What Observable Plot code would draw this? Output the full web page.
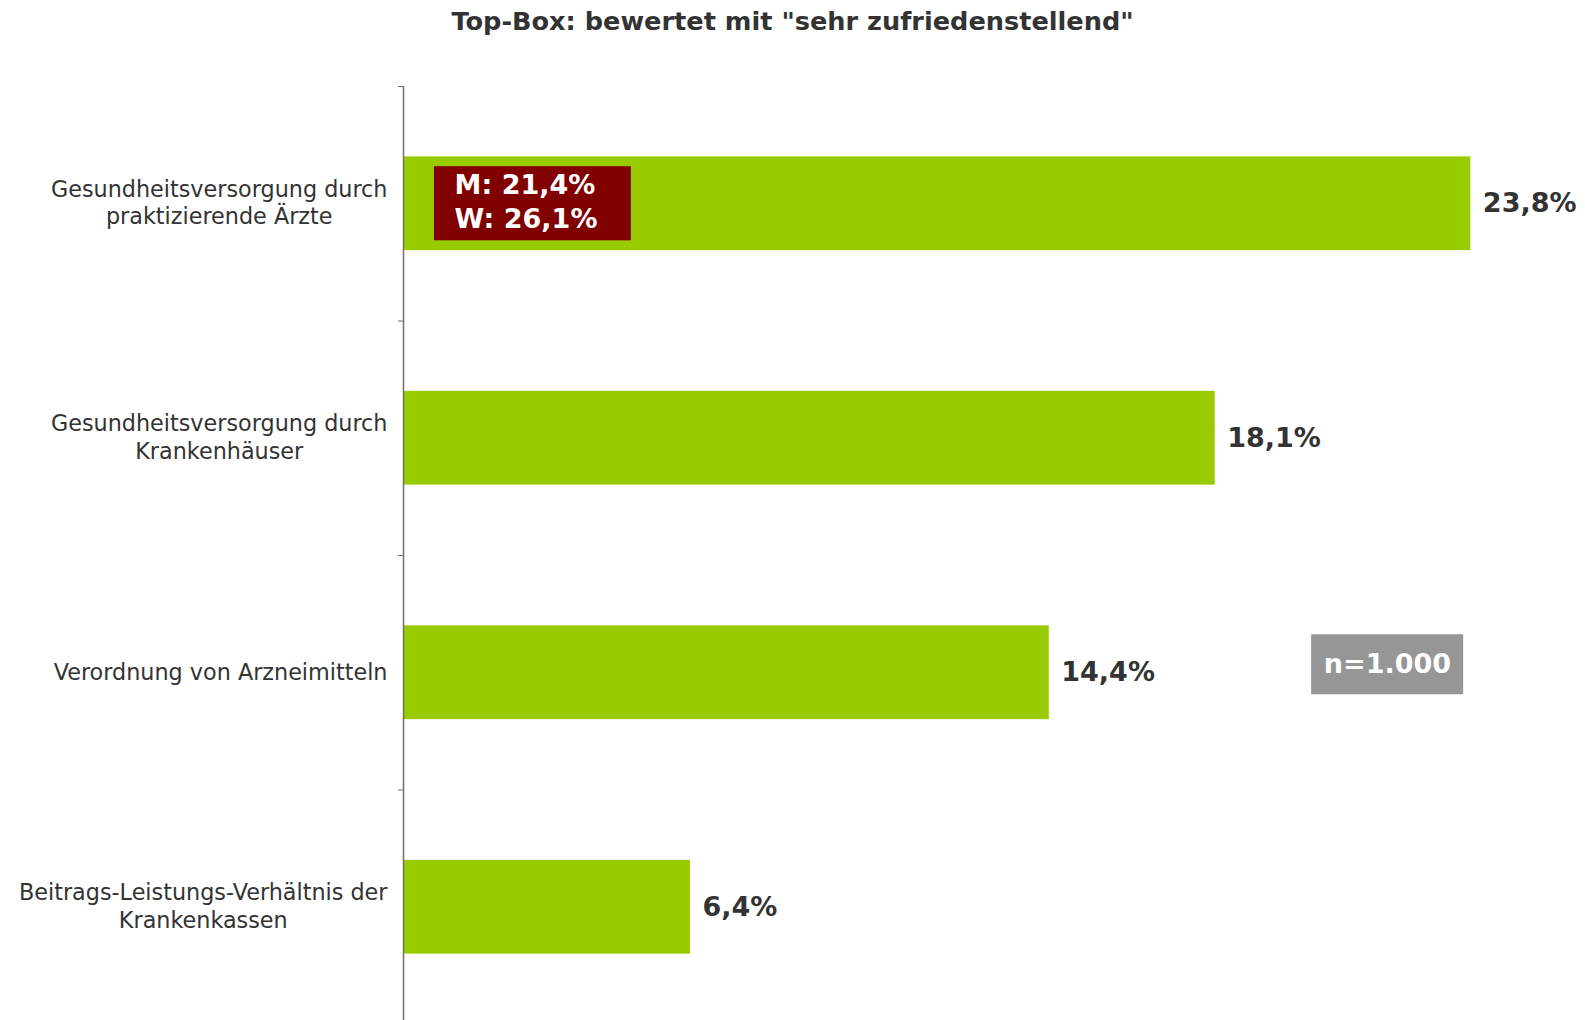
<!DOCTYPE html>
<html>
<head>
<meta charset="utf-8">
<script src="https://cdn.jsdelivr.net/npm/d3@7"></script>
<script src="https://cdn.jsdelivr.net/npm/@observablehq/plot@0.6"></script>
<style>
  html, body { margin: 0; padding: 0; background: #fff; overflow: hidden; }
  body { font-family: "DejaVu Sans", Verdana, sans-serif; width: 1585px; height: 1020px; }
  #title { height: 40px; line-height: 42px; text-align: center; font-weight: bold; font-size: 25.6px; color: #333; }
</style>
</head>
<body>
<div id="title">Top-Box: bewertet mit "sehr zufriedenstellend"</div>
<div id="chart"></div>
<script>
const categories = [
  "Gesundheitsversorgung durch\npraktizierende Ärzte",
  "Gesundheitsversorgung durch\nKrankenhäuser",
  "Verordnung von Arzneimitteln",
  "Beitrags-Leistungs-Verhältnis der\nKrankenkassen"
];
const values = [23.8, 18.1, 14.4, 6.4];
const genderLabels = ["M", "W"];
const genderValues = [21.4, 26.1];
const sampleNote = "n=1.000";

const fmt = v => v.toFixed(1).replace(".", ",") + "%";
const rows = categories.map((c, i) => ({category: c, index: i, value: values[i]}));
const genderText = genderLabels.map((g, i) => `${g}: ${fmt(genderValues[i])}`).join("\n");

const chart = Plot.plot({
  width: 1585,
  height: 984,
  marginLeft: 403,
  marginRight: 16,
  marginTop: 46,
  marginBottom: 0,
  style: {fontFamily: "DejaVu Sans, Verdana, sans-serif", background: "#fff"},
  x: {domain: [0, 26], axis: null},
  y: {domain: [0, 4], reverse: true, axis: null},
  marks: [
    Plot.rect(rows, {x1: 0, x2: "value", y1: d => d.index + 0.3, y2: d => d.index + 0.7, fill: "#99CC00"}),
    Plot.ruleX([0], {stroke: "#707070", strokeWidth: 1.5}),
    Plot.axisY({ticks: [0, 1, 2, 3], tickSize: 5, tickFormat: () => "", stroke: "#707070"}),
    Plot.text(rows, {
      x: 0, y: d => d.index + 0.5, text: "category", textAnchor: "end", dx: -16, dy: -2,
      fontSize: 22.3, lineHeight: 1.24, fill: "#333"
    }),
    Plot.text(rows, {
      x: "value", y: d => d.index + 0.5, text: d => fmt(d.value), textAnchor: "start", dx: 12,
      fontSize: 27, fontWeight: "bold", fill: "#333"
    }),
    // gender split annotation on first bar
    Plot.rect([0], {x1: 0.69, x2: 5.08, y1: 0.342, y2: 0.658, fill: "#800000"}),
    Plot.text([genderText], {
      x: 1.14, y: 0.488, text: d => d, textAnchor: "start", lineAnchor: "middle", dy: -1,
      fontSize: 27, lineHeight: 1.26, fontWeight: "bold", fill: "#fff"
    }),
    // sample size note
    Plot.rect([0], {x1: 20.25, x2: 23.64, y1: 2.338, y2: 2.594, fill: "#969696"}),
    Plot.text([sampleNote], {
      x: 21.94, y: 2.466, text: d => d, textAnchor: "middle", lineAnchor: "middle",
      fontSize: 27, fontWeight: "bold", fill: "#fff"
    })
  ]
});
document.getElementById("chart").append(chart);

// center multi-line category labels line by line, keeping the block right-aligned
chart.querySelectorAll("text").forEach(t => {
  const spans = t.querySelectorAll("tspan");
  if (spans.length < 2) return;
  const content = Array.from(spans).map(s => s.textContent).join("\n");
  if (!categories.includes(content)) return;
  let w = 0;
  spans.forEach(s => { w = Math.max(w, s.getComputedTextLength()); });
  t.setAttribute("text-anchor", "middle");
  t.style.textAnchor = "middle";
  t.setAttribute("transform", (t.getAttribute("transform") || "") + ` translate(${-w / 2},0)`);
});
</script>
</body>
</html>
